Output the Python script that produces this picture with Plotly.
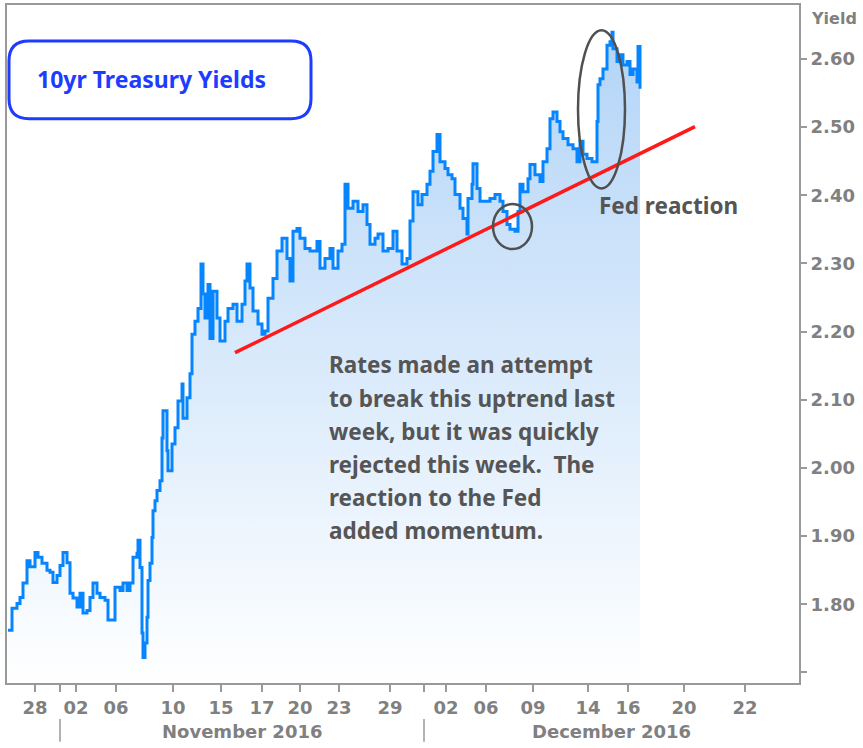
import plotly.graph_objects as go

# ---------------- data ----------------
# bar index (intraday sample position) and 10yr yield (%)
bars = [0,4,9,12,15,19,22,27,30,34,39,42,45,49,52,55,59,62,65,69,72,75,79,82,85,89,92,97,100,104,
        107,112,115,119,122,125,129,130,132,134,135,137,139,140,142,144,145,147,149,152,154,155,159,160,
        164,167,170,174,175,179,182,184,187,190,193,195,197,200,202,205,209,212,217,220,225,229,234,237,
        239,242,245,250,254,257,260,265,269,274,279,282,285,289,292,297,302,309,312,317,322,325,330,334,
        337,340,345,350,355,359,362,367,370,375,380,385,389,394,399,402,405,410,414,419,422,425,429,432,
        437,440,444,447,452,455,459,460,464,465,469,472,477,482,487,492,495,499,502,507,510,512,515,520,
        522,527,532,535,539,542,545,549,552,555,560,565,569,572,575,579,584,587,589,590,592,595,599,602,
        604,605,609,612,615,619,622,625,629,630,632]
yields = [1.762,1.794,1.801,1.810,1.831,1.864,1.855,1.876,1.869,1.860,1.850,1.847,1.832,1.842,1.857,
          1.876,1.861,1.816,1.809,1.796,1.816,1.787,1.791,1.810,1.831,1.816,1.810,1.806,1.777,1.777,
          1.825,1.820,1.831,1.820,1.831,1.869,1.875,1.894,1.854,1.758,1.722,1.743,1.781,1.835,1.860,
          1.898,1.937,1.952,1.967,1.981,2.044,2.084,2.025,1.996,2.035,2.059,2.098,2.123,2.073,2.103,
          2.138,2.196,2.215,2.234,2.299,2.255,2.220,2.269,2.190,2.259,2.220,2.186,2.215,2.234,2.240,
          2.215,2.240,2.274,2.299,2.264,2.230,2.211,2.196,2.201,2.249,2.278,2.318,2.337,2.307,2.274,
          2.347,2.351,2.337,2.322,2.318,2.332,2.293,2.307,2.322,2.293,2.318,2.328,2.416,2.381,2.391,
          2.376,2.386,2.357,2.328,2.337,2.343,2.318,2.322,2.347,2.318,2.299,2.307,2.362,2.405,2.386,
          2.401,2.416,2.435,2.464,2.489,2.449,2.439,2.430,2.424,2.401,2.381,2.366,2.343,2.395,2.416,
          2.446,2.410,2.391,2.391,2.395,2.401,2.391,2.376,2.357,2.350,2.347,2.376,2.416,2.405,2.424,
          2.445,2.430,2.420,2.449,2.468,2.512,2.522,2.508,2.493,2.483,2.474,2.468,2.449,2.479,2.460,
          2.454,2.449,2.449,2.508,2.562,2.571,2.585,2.620,2.625,2.639,2.615,2.596,2.606,2.591,2.596,
          2.577,2.585,2.566,2.618,2.556]
if len(bars) != len(yields):
    raise SystemExit(f"length mismatch {len(bars)} vs {len(yields)}")

tick_bars = [27, 68, 108, 165, 213, 254, 292, 331, 382, 438, 478, 525, 580, 620, 676, 737]
tick_labels = ["28", "02", "06", "10", "15", "17", "20", "23", "29",
               "02", "06", "09", "14", "16", "20", "22"]
month_breaks = [52, 416]
month_labels = ["November 2016", "December 2016"]
x_end = 791

y_ticks = [1.70, 1.80, 1.90, 2.00, 2.10, 2.20, 2.30, 2.40, 2.50, 2.60]
y_labels = ["", "1.80", "1.90", "2.00", "2.10", "2.20", "2.30", "2.40", "2.50", "2.60"]

trend_bars = [227, 687]
trend_yields = [2.169, 2.5005]

small_circle = dict(x0=485, x1=524, y0=2.321, y1=2.387)
big_ellipse = dict(x0=570, x1=617, y0=2.410, y1=2.642)

note_lines = ["Rates made an attempt", "to break this uptrend last",
              "week, but it was quickly", "rejected this week.  The",
              "reaction to the Fed", "added momentum."]

# ---------------- layout helpers (pixel -> paper) ----------------
L, T, W, H = 7, 3, 792, 680
def fx(p):
    return (p - L) / W
def fy(p):
    return (T + H - p) / H

GRAY = "#808080"
TXT = "#555555"
BLUE_LINE = "#0785ff"
AXF = "DejaVu Sans"
ANF = "Noto Sans"

fig = go.Figure()

fig.add_trace(go.Scatter(
    x=bars, y=yields, mode="lines",
    line=dict(color=BLUE_LINE, width=3, shape="hv"),
    fill="tozeroy",
    fillgradient=dict(type="vertical",
                      colorscale=[[0, "rgba(255,255,255,1)"], [1, "#b2d4f7"]],
                      start=1.6845, stop=2.65),
    hoverinfo="skip", showlegend=False))

fig.add_trace(go.Scatter(
    x=trend_bars, y=trend_yields, mode="lines",
    line=dict(color="#ff1a1a", width=3.5), showlegend=False, hoverinfo="skip"))

# last value marker on the right axis
fig.add_trace(go.Scatter(
    x=[x_end + 9], y=[yields[-1]], mode="markers",
    marker=dict(symbol="diamond", size=11, color=BLUE_LINE),
    cliponaxis=False, showlegend=False, hoverinfo="skip"))

shapes = []
for e in (small_circle, big_ellipse):
    shapes.append(dict(type="circle", xref="x", yref="y", **e,
                       line=dict(color="#505050", width=2.5)))
for b in month_breaks:
    shapes.append(dict(type="line", xref="x", yref="paper", x0=b, x1=b,
                       y0=fy(719), y1=fy(742), line=dict(color="#999999", width=1.5)))

# rounded title box
x0p, y0p, x1p, y1p, r = 9, 39, 311, 117, 20
def P(a, b):
    return f"{fx(a):.5f},{fy(b):.5f}"
path = (f"M {P(x0p + r, y0p)} L {P(x1p - r, y0p)} Q {P(x1p, y0p)} {P(x1p, y0p + r)} "
        f"L {P(x1p, y1p - r)} Q {P(x1p, y1p)} {P(x1p - r, y1p)} "
        f"L {P(x0p + r, y1p)} Q {P(x0p, y1p)} {P(x0p, y1p - r)} "
        f"L {P(x0p, y0p + r)} Q {P(x0p, y0p)} {P(x0p + r, y0p)} Z")
shapes.append(dict(type="path", xref="paper", yref="paper", path=path,
                   line=dict(color="#1d3cff", width=3), fillcolor="white"))

annotations = [
    dict(text="10yr Treasury Yields", xref="paper", yref="paper", x=fx(151), y=fy(77),
         xanchor="center", yanchor="middle", showarrow=False,
         font=dict(family=ANF, size=23, color="#1d3cff", weight="bold")),
    dict(text="Fed reaction", xref="paper", yref="paper", x=fx(597), y=fy(204),
         xanchor="left", yanchor="middle", showarrow=False,
         font=dict(family=ANF, size=22.5, color=TXT, weight="bold")),
    dict(text="Yield", xref="paper", yref="paper", x=fx(809), y=fy(17),
         xanchor="left", yanchor="middle", showarrow=False,
         font=dict(family=AXF, size=16, color=GRAY, weight="bold")),
]
for i, line in enumerate(note_lines):
    annotations.append(dict(text=line, xref="paper", yref="paper", x=fx(327), y=fy(364 + 33.2 * i),
                            xanchor="left", yanchor="middle", showarrow=False,
                            font=dict(family=ANF, size=22.5, color=TXT, weight="bold")))
bounds = month_breaks + [x_end]
for i, lab in enumerate(month_labels):
    annotations.append(dict(text=lab, xref="x", yref="paper", x=(bounds[i] + bounds[i + 1]) / 2,
                            y=fy(732), xanchor="center", yanchor="middle", showarrow=False,
                            font=dict(family=AXF, size=18, color=GRAY, weight="bold")))

fig.update_layout(
    width=863, height=748,
    margin=dict(l=L, r=863 - L - W, t=T, b=748 - T - H),
    paper_bgcolor="white", plot_bgcolor="white",
    shapes=shapes, annotations=annotations,
    xaxis=dict(range=[-1, x_end], showgrid=False, zeroline=False,
               tickmode="array", tickvals=tick_bars + month_breaks,
               ticktext=tick_labels + ["", ""],
               ticks="outside", ticklen=7, tickwidth=1.5, tickcolor="#999999",
               showline=True, linecolor="#999999", linewidth=2, mirror=True,
               tickfont=dict(family=AXF, size=18, color=GRAY, weight="bold")),
    yaxis=dict(range=[1.6845, 2.679], side="right", showgrid=False, zeroline=False,
               tickmode="array", tickvals=y_ticks, ticktext=y_labels,
               ticks="outside", ticklen=6, tickwidth=1.5, tickcolor="#999999",
               showline=True, linecolor="#999999", linewidth=2, mirror=True,
               tickfont=dict(family=AXF, size=18, color=GRAY, weight="bold")),
)

fig.write_html("out.html", config={"displayModeBar": False},
               post_script="document.body.style.margin='0';document.body.style.overflow='hidden';")
